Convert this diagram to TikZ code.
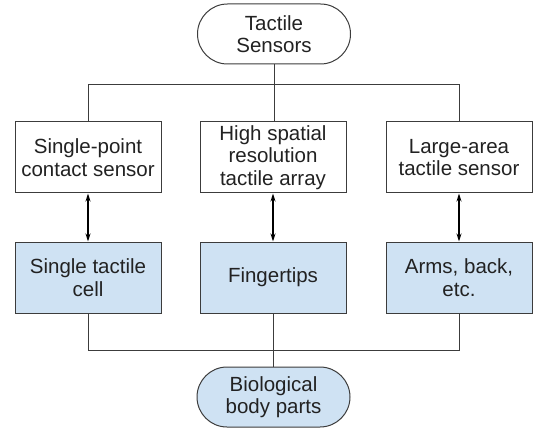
\documentclass[tikz,border=0pt]{standalone}
\usepackage{fontspec}
\setmainfont{Liberation Sans}
\usepackage{tikz}
\usepackage{xcolor}
\usetikzlibrary{arrows.meta,positioning,shapes,calc}
\definecolor{ink}{HTML}{222222}
\definecolor{edge}{HTML}{3C3C3C}
\definecolor{skin}{HTML}{CFE2F3}
\tikzset{
  sensebox/.style={draw=edge,fill=white,line width=1pt,
                   minimum width=146pt,minimum height=71pt,
                   align=center,font=\fontsize{20.5}{22.5}\selectfont,text=ink,inner sep=2pt},
  bodybox/.style={sensebox,fill=skin},
  endcap/.style={draw=edge,rounded rectangle,line width=1pt,
                 minimum width=157pt,minimum height=60pt,
                 align=center,font=\fontsize{20.5}{22.5}\selectfont,text=ink,inner sep=2pt},
  treeline/.style={draw=edge,line width=1pt},
  maparr/.style={{Stealth[length=8pt,width=5pt]}-{Stealth[length=8pt,width=5pt]},line width=1.3pt,color=black}
}
\begin{document}
\begin{tikzpicture}[x=1pt,y=1pt]
  \useasboundingbox (0,0) rectangle (537,-430);
  \node[endcap,fill=white] (sensors) at (274,-34) {Tactile\\Sensors};
  \node[sensebox] (point) at (88,-157.5) {Single-point\\contact sensor};
  \node[sensebox] (array) at (273,-157.5) {High spatial\\resolution\\tactile array};
  \node[sensebox] (area) at (459,-157.5) {Large-area\\tactile sensor};
  \node[bodybox] (cell) at (88,-277.5) {Single tactile\\cell};
  \node[bodybox] (tips) at (273,-277.5) {Fingertips};
  \node[bodybox] (arms) at (459,-277.5) {Arms, back,\\etc.};
  \node[endcap,fill=skin] (body) at (273.5,-397) {Biological\\body parts};
  \coordinate (topbus) at (0,-85);
  \coordinate (lowbus) at (0,-350);
  \draw[treeline] (sensors.south) -- (sensors.south |- array.north);
  \draw[treeline] (point.north) -- (point.north |- topbus) -- (area.north |- topbus) -- (area.north);
  \draw[treeline] (tips.south) -- (tips.south |- body.north);
  \draw[treeline] (cell.south) -- (cell.south |- lowbus) -- (arms.south |- lowbus) -- (arms.south);
  \draw[maparr] (point) -- (cell);
  \draw[maparr] (array) -- (tips);
  \draw[maparr] (area) -- (arms);
\end{tikzpicture}
\end{document}
